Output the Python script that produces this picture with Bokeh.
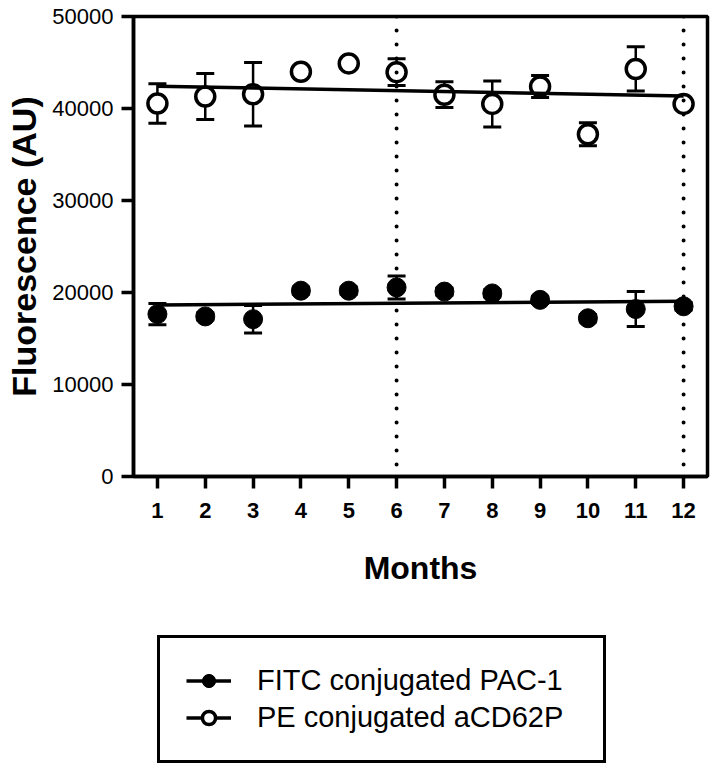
import numpy as np
from bokeh.plotting import figure
from bokeh.layouts import column
from bokeh.models import (ColumnDataSource, Whisker, TeeHead, Span, Legend, LegendItem,
                          FixedTicker, BasicTickFormatter, Range1d)
from bokeh.embed import file_html
from bokeh.resources import INLINE

# ---------------- data ----------------
months = [1, 2, 3, 4, 5, 6, 7, 8, 9, 10, 11, 12]
fitc_mean = [17650, 17400, 17100, 20200, 20200, 20550, 20100, 19900, 19200, 17200, 18200, 18500]
fitc_sem = [1150, 400, 1500, 400, 400, 1250, 400, 400, 400, 400, 1900, 400]
pe_mean = [40550, 41300, 41550, 44000, 44900, 43950, 41500, 40500, 42400, 37200, 44300, 40500]
pe_sem = [2150, 2500, 3450, 400, 400, 1450, 1400, 2500, 1200, 1250, 2400, 400]
y_ticks = [0, 10000, 20000, 30000, 40000, 50000]
x_ticks = months
vline_months = [6, 12]
series_labels = ["FITC conjugated PAC-1", "PE conjugated aCD62P"]

FONT = "Liberation Sans"

p = figure(width=710, height=598, output_backend="svg", toolbar_location=None,
           x_range=Range1d(0.5, 12.5), y_range=Range1d(0, 50000),
           min_border_left=133, min_border_right=3, min_border_top=16, min_border_bottom=122)
p.grid.visible = False
p.background_fill_color = "white"
p.border_fill_color = "white"
p.outline_line_color = "black"
p.outline_line_width = 3.5

# axes
for ax in (p.xaxis[0], p.yaxis[0]):
    ax.axis_line_width = 3.5
    ax.axis_line_color = "black"
    ax.major_tick_line_width = 3.5
    ax.major_tick_line_color = "black"
    ax.major_tick_out = 12
    ax.major_tick_in = 0
    ax.minor_tick_line_color = None
    ax.major_label_text_font = FONT
    ax.major_label_text_font_size = "22px"
    ax.major_label_text_color = "black"
    ax.axis_label_text_font = FONT
    ax.axis_label_text_font_style = "bold"
    ax.axis_label_text_color = "black"

p.xaxis.ticker = FixedTicker(ticks=x_ticks)
p.xaxis.major_label_text_font_style = "bold"
p.xaxis.major_label_standoff = 14
p.xaxis.axis_label = "Months"
p.xaxis.axis_label_text_font_size = "32px"
p.xaxis.axis_label_standoff = 29

p.yaxis.ticker = FixedTicker(ticks=y_ticks)
p.yaxis.formatter = BasicTickFormatter(use_scientific=False)
p.yaxis.major_label_standoff = 8
p.yaxis.major_label_text_font_size = "22px"
p.yaxis.axis_label = "Fluorescence (AU)"
p.yaxis.axis_label_text_font_size = "34px"
p.yaxis.axis_label_standoff = 6

# error bars
fitc_src = ColumnDataSource(dict(x=months, y=fitc_mean,
                                 lo=[m - s for m, s in zip(fitc_mean, fitc_sem)],
                                 hi=[m + s for m, s in zip(fitc_mean, fitc_sem)]))
pe_src = ColumnDataSource(dict(x=months, y=pe_mean,
                               lo=[m - s for m, s in zip(pe_mean, pe_sem)],
                               hi=[m + s for m, s in zip(pe_mean, pe_sem)]))
for src in (fitc_src, pe_src):
    w = Whisker(source=src, base="x", lower="lo", upper="hi", dimension="height",
                line_color="black", line_width=2.5, level="underlay",
                upper_head=TeeHead(size=18, line_width=3, line_color="black"),
                lower_head=TeeHead(size=18, line_width=3, line_color="black"))
    p.add_layout(w)

# markers
fitc_style = dict(marker="circle", size=19, fill_color="black", line_color="black", line_width=1)
pe_style = dict(marker="circle", size=19, fill_color="white", line_color="black", line_width=3.5)
fitc_pts = p.scatter("x", "y", source=fitc_src, **fitc_style)
pe_pts = p.scatter("x", "y", source=pe_src, **pe_style)

# linear regression lines (computed from the data)
xa = np.array(months, dtype=float)
line_x = [months[0], months[-1]]
k1, b1 = np.polyfit(xa, np.array(fitc_mean, dtype=float), 1)
k2, b2 = np.polyfit(xa, np.array(pe_mean, dtype=float), 1)
fitc_fit = ColumnDataSource(dict(x=line_x, y=[k1 * v + b1 for v in line_x]))
pe_fit = ColumnDataSource(dict(x=line_x, y=[k2 * v + b2 for v in line_x]))
p.line("x", "y", source=fitc_fit, line_color="black", line_width=3.5)
p.line("x", "y", source=pe_fit, line_color="black", line_width=3.5)

# dotted vertical lines
for m in vline_months:
    p.add_layout(Span(location=m, dimension="height", line_color="black", line_width=4,
                      line_dash="0 14", line_cap="round"))

# ---------------- legend strip below the chart ----------------
# the legend's sample renderers reuse the series sources; the strip's ranges keep
# the actual marks out of view so only the legend samples are visible
lg = figure(width=710, height=166, output_backend="svg", toolbar_location=None,
            x_range=Range1d(-2, -1), y_range=Range1d(-2, -1),
            min_border_left=0, min_border_right=0, min_border_top=0, min_border_bottom=0)
lg.axis.visible = False
lg.grid.visible = False
lg.outline_line_color = None
lg.background_fill_color = "white"
lg.border_fill_color = "white"
l1 = lg.line("x", "y", source=fitc_fit, line_color="black", line_width=3.5)
s1 = lg.scatter("x", "y", source=fitc_src, **fitc_style)
l2 = lg.line("x", "y", source=pe_fit, line_color="black", line_width=3.5)
s2 = lg.scatter("x", "y", source=pe_src, **pe_style)
legend = Legend(items=[LegendItem(label=series_labels[0], renderers=[l1, s1]),
                       LegendItem(label=series_labels[1], renderers=[l2, s2])],
                location=(24, 1), orientation="vertical",
                border_line_color="black", border_line_width=3.5, border_line_alpha=1.0,
                background_fill_color="white", background_fill_alpha=1.0,
                label_text_font=FONT, label_text_font_size="29px", label_text_color="black",
                glyph_width=45, glyph_height=33, label_height=33, label_width=320,
                label_standoff=26, padding=26, spacing=4, margin=0)
lg.add_layout(legend, "center")

layout = column(p, lg, spacing=0)
open("out.html", "w").write(file_html(layout, INLINE))
